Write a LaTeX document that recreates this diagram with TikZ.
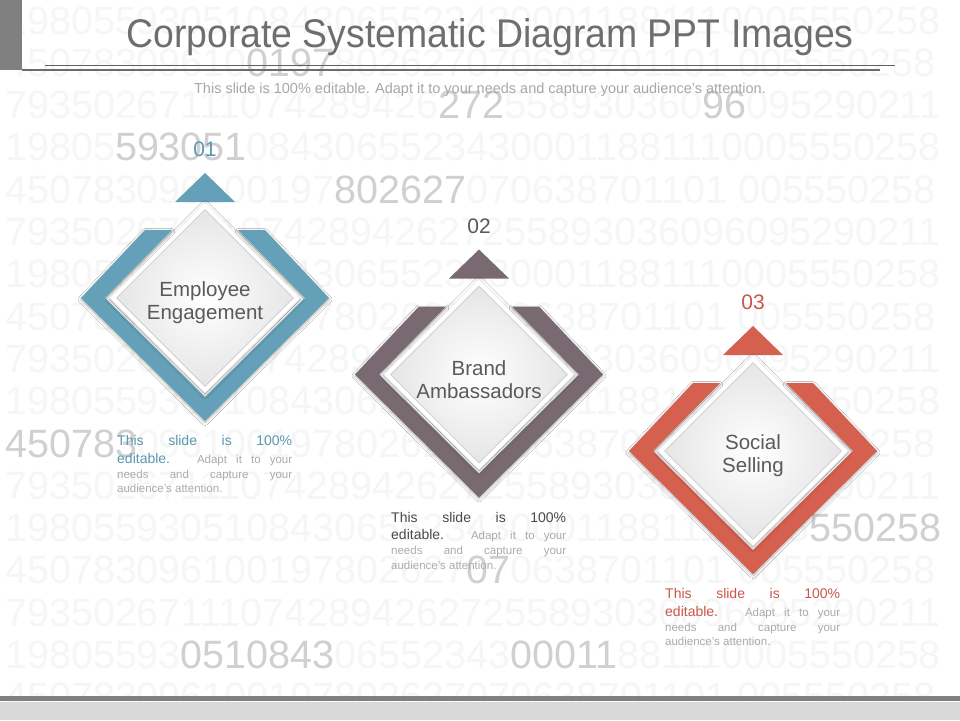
\documentclass[tikz,border=0pt]{standalone}
\usepackage{fontspec}
\setmainfont{Liberation Sans}
\usetikzlibrary{shapes.geometric,shadows.blur}
\definecolor{bgnum}{HTML}{F6F6F6}
\definecolor{hinum}{HTML}{D0D0D0}
\definecolor{cblue}{HTML}{64A0B7}
\definecolor{cmauve}{HTML}{786A70}
\definecolor{cred}{HTML}{D5604F}
\definecolor{tblue}{HTML}{5B97AE}
\definecolor{tdark}{HTML}{4A4A4A}
\definecolor{labdark}{HTML}{5A5A5A}
\definecolor{tred}{HTML}{C9564A}
\definecolor{smallgray}{HTML}{ABABAB}
\definecolor{titlegray}{HTML}{6E6E6E}
\definecolor{subgray}{HTML}{A8A8A8}
\definecolor{textgray}{HTML}{5A5A5A}
\definecolor{bargray}{HTML}{808080}
\definecolor{bandlight}{HTML}{D9D9D9}
\newcommand\hl[1]{\textcolor{hinum}{#1}}
\begin{document}
\begin{tikzpicture}[x=1pt,y=-1pt,
  numrow/.style={anchor=base west, inner sep=0pt, text=bgnum, font=\fontsize{39.5}{40}\selectfont},
  wdiam/.style={diamond, minimum width=190pt, minimum height=190pt, inner sep=0pt, fill=white,
    blur shadow={shadow xshift=0pt, shadow yshift=-1.5pt, shadow blur radius=4pt, shadow opacity=22}},
  idiam/.style={diamond, minimum width=177pt, minimum height=177pt, inner sep=0pt, draw=gray!40,
    line width=0.8pt, inner color=white, outer color=gray!20},
  dtext/.style={align=center, inner sep=0pt, text=textgray, font=\fontsize{20.5}{22.8}\selectfont},
  numlab/.style={anchor=base, inner sep=0pt, font=\fontsize{21}{21}\selectfont},
  bigline/.style={anchor=base west, inner sep=0pt, font=\fontsize{14}{15}\selectfont},
  smallline/.style={anchor=base west, inner sep=0pt, text=smallgray, font=\fontsize{11.5}{12}\selectfont},
  bandshadow/.style={blur shadow={shadow xshift=0pt, shadow yshift=-1.5pt, shadow blur radius=3pt, shadow opacity=30}}
]
\useasboundingbox (0,0) rectangle (960,720);
\fill[white] (0,0) rectangle (960,720);
% background numbers
\node[numrow] (r1) at (5,34) {1980559305108430655234300011881110005550258};
\node[numrow] (r2) at (5,76.3) {45078309610\hl{0197}802627070638701101 005550258};
\node[numrow] (r3) at (5,118.6) {79350267111074289426\hl{272}558930360\hl{96}095290211};
\node[numrow] (r4) at (5,160.9) {19805\hl{593051}08430655234300011881110005550258};
\node[numrow] (r5) at (5,203.2) {450783096100197\hl{802627}070638701101 005550258};
\node[numrow] (r6) at (5,245.5) {7935026711107428942627255893036096095290211};
\node[numrow] (r7) at (5,287.8) {1980559305108430655234300011881110005550258};
\node[numrow] (r8) at (5,330.1) {450783096100197802627070638701101 005550258};
\node[numrow] (r9) at (5,372.4) {7935026711107428942627255893036096095290211};
\node[numrow] (r10) at (5,414.7) {1980559305108430655234300011881110005550258};
\node[numrow] (r11) at (5,457) {\hl{450783}096100197802627070638701101 005550258};
\node[numrow] (r12) at (5,499.3) {7935026711107428942627255893036096095290211};
\node[numrow] (r13) at (5,541.6) {1980559305108430655234300011881110005\hl{550258}};
\node[numrow] (r14) at (5,583.9) {450783096100197802627\hl{07}0638701101 005550258};
\node[numrow] (r15) at (5,626.2) {7935026711107428942627255893036096095290211};
\node[numrow] (r16) at (5,668.5) {19805593\hl{0510843}06552343\hl{00011}881110005550258};
\node[numrow] (r17) at (5,710.8) {450783096100197802627070638701101 005550258};
% header
\fill[bargray] (0,0) rectangle (22,70);
\node[anchor=base, inner sep=0pt, text=titlegray] (title) at (490,47)
  {\scalebox{0.935}[1]{\fontsize{40}{40}\selectfont Corporate Systematic Diagram PPT Images}};
\coordinate (u1) at (45,65.5);
\coordinate (u2) at (895,65.5);
\coordinate (v1) at (22,70);
\coordinate (v2) at (880,70);
\draw[line width=1.8pt, color=gray!75!black] (u1) -- (u2);
\draw[line width=1.6pt, color=gray!85!black] (v1) -- (v2);
\node[anchor=base, inner sep=0pt, text=subgray, font=\fontsize{14.5}{15}\selectfont] (sub) at (480,93)
  {This slide is 100\% editable. Adapt it to your needs and capture your audience's attention.};
% footer
\fill[bargray] (0,696) rectangle (960,701);
\fill[bandlight] (0,702) rectangle (960,720);
% diamonds
\foreach \n/\cx/\cy/\col/\tcol/\lcol/\lab/\la/\lb in
  {1/205/298/cblue/tblue/tblue/01/Employee/Engagement,
   2/479/374.5/cmauve/tdark/labdark/02/Brand/Ambassadors,
   3/753/451/cred/tred/tred/03/Social/Selling}{
  \fill[\col, bandshadow] (\cx-60,\cy-68) -- (\cx-124,\cy) -- (\cx,\cy+123) -- (\cx+124,\cy)
     -- (\cx+60,\cy-68) -- (\cx+33,\cy-68) -- (\cx+100,\cy) -- (\cx,\cy+99) -- (\cx-100,\cy)
     -- (\cx-33,\cy-68) -- cycle;
  \fill[\col] (\cx,\cy-125) -- (\cx+30,\cy-96) -- (\cx-30,\cy-96) -- cycle;
  \node[wdiam] (white\n) at (\cx,\cy) {};
  \node[idiam] (inner\n) at (\cx,\cy) {};
  \node[dtext] (txt\n) at (\cx,\cy+5) {\la\\\lb};
  \node[numlab, text=\lcol] (lab\n) at (\cx,\cy-141.5) {\lab};
  \node[bigline, text=\tcol] (la\n) at (\cx-88,\cy+147.5) {\makebox[175pt][s]{This slide is 100\%}};
  \node[bigline, text=\tcol] (lb\n) at (\cx-88,\cy+165)
    {\makebox[175pt][s]{editable. \fontsize{11.5}{12}\selectfont\color{smallgray}Adapt it to your}};
  \node[smallline] (lc\n) at (\cx-88,\cy+180) {\makebox[175pt][s]{needs and capture your}};
  \node[smallline] (ld\n) at (\cx-88,\cy+194.5) {audience's attention.};
}
\end{tikzpicture}
\end{document}
